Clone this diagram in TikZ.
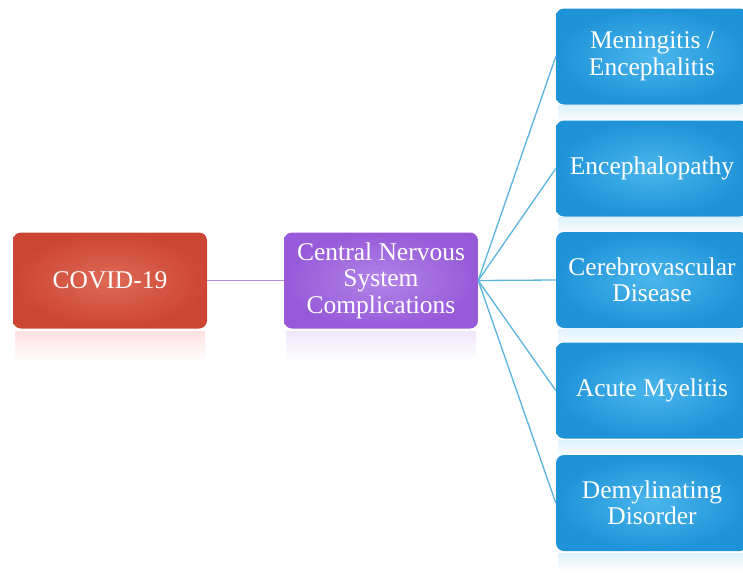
\documentclass[tikz,border=0pt]{standalone}
\usepackage{fontspec}
\setmainfont{Liberation Serif}
\definecolor{redA}{HTML}{CC4633}
\definecolor{redB}{HTML}{DE6A56}
\definecolor{purA}{HTML}{975AD8}
\definecolor{purB}{HTML}{B283E8}
\definecolor{bluA}{HTML}{1E93D8}
\definecolor{bluB}{HTML}{4AB6EC}
\definecolor{linkB}{HTML}{5AB4E0}
\definecolor{linkP}{HTML}{B58BDD}
\tikzset{
  boxbase/.style={rounded corners=8pt, minimum width=194pt, minimum height=96pt,
    text=white, font=\fontsize{25.5}{26.5}\selectfont, align=center, inner sep=2pt},
  redbox/.style={boxbase, inner color=redB, outer color=redA},
  purbox/.style={boxbase, inner color=purB, outer color=purA},
  blubox/.style={boxbase, minimum width=192pt, inner color=bluB, outer color=bluA},
  bluelink/.style={draw=linkB, line width=1.3pt},
  purlink/.style={draw=linkP, line width=1.3pt}
}
\begin{document}
\begin{tikzpicture}[x=1pt,y=1pt]
\useasboundingbox (0,0) rectangle (743,-576);
\fill[white] (0,0) rectangle (743,-576);
% reflections
\shade[top color=red!12, bottom color=white] (15,-331) rectangle (205,-362);
\shade[top color=purB!20, bottom color=white] (286,-331) rectangle (476,-362);
\foreach \t in {104,216,328,439,552}
  \shade[top color=bluB!18, bottom color=white] (558,-\t-1) rectangle (743,-\t-20);
% boxes
\node[redbox] (covid) at (110,-280.5) {COVID-19};
\node[purbox] (cns) at (381,-280.5) {Central Nervous\\System\\Complications};
\node[blubox] (b1) at (652,-56.5) {Meningitis /\\Encephalitis};
\node[blubox] (b2) at (652,-168.5) {Encephalopathy};
\node[blubox] (b3) at (652,-280) {Cerebrovascular\\Disease};
\node[blubox] (b4) at (652,-390.5) {Acute Myelitis};
\node[blubox] (b5) at (652,-503) {Demylinating\\Disorder};
% links
\draw[purlink] (covid.east) -- (cns.west);
\foreach \b in {b1,b2,b3,b4,b5}
  \draw[bluelink] (cns.east) -- (\b.west);
\end{tikzpicture}
\end{document}
